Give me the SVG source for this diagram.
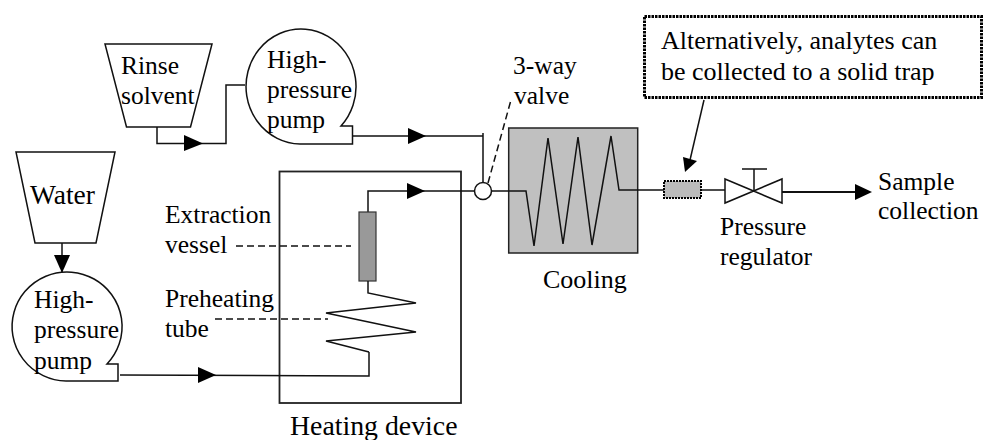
<svg xmlns="http://www.w3.org/2000/svg" width="983" height="440" viewBox="0 0 983 440">
<style>
text{font-family:"Liberation Serif","Times New Roman",serif;font-size:25.500px;fill:#000}
.s{fill:none;stroke:#111;stroke-width:1.5}
.w{fill:#fff;stroke:#111;stroke-width:1.5}
.d{fill:none;stroke:#111;stroke-width:1.5;stroke-dasharray:7 4}
.h{fill:#000;stroke:none}
</style>
<rect width="983" height="440" fill="#fff"/>
<g id="heating-device">
<rect x="279.500" y="171.500" width="181.500" height="231.500" fill="none" stroke="#222" stroke-width="1.800"/>
<text x="290" y="435" style="font-size:27.800px">Heating device</text>
</g>
<g id="cooling">
<rect x="508.700" y="128" width="129" height="125" fill="#c0c0c0" stroke="#222" stroke-width="1.500"/>
<path class="s" d="M492 191H526L534 246L548 138L563 244L578 137L592 245L611 136L619 190H664"/>
<text x="543" y="288" style="font-size:26px">Cooling</text>
</g>
<g id="connectors">
<path class="s" d="M157 127V143.500H226V85H245"/>
<path class="h" d="M184 135V151L203 143.500Z"/>
<path class="s" d="M352.500 136H483M483 133V183"/>
<path class="h" d="M408 128V144L426 136Z"/>
<path class="s" d="M62 243V273"/>
<path class="h" d="M54 255H70L62 273Z"/>
<path class="s" d="M120 375L369 376V352"/>
<path class="h" d="M198 367V383L216 375Z"/>
<path class="s" d="M368 212V191H474"/>
<path class="h" d="M407 183V199L425 191Z"/>
<path class="d" d="M236 246H351"/>
<path class="d" d="M215 319H328"/>
<path class="d" d="M488 183L511 100"/>
<path class="s" d="M701 190H725"/>
<path class="s" d="M782 192H855" style="stroke-width:2"/>
<path class="h" d="M855 184V200L872 192Z"/>
<path class="s" d="M704 100L690 160"/>
<path class="h" d="M683 157L697 161L685 172Z"/>
</g>
<g id="rinse-solvent">
<path class="w" d="M105 44H212L190.500 127H126.500Z"/>
<text x="121" y="74">Rinse</text>
<text x="121" y="104">solvent</text>
</g>
<g id="pump-top">
<path class="w" d="M341 126L352.500 126V144H300A55 57.500 0 1 1 341 126Z"/>
<text x="267" y="68">High-</text>
<text x="267" y="98">pressure</text>
<text x="267" y="128">pump</text>
</g>
<g id="water">
<path class="w" d="M16 152H115L96 243H35Z"/>
<text x="30" y="204" style="font-size:27.500px">Water</text>
</g>
<g id="pump-bottom">
<path class="w" d="M107 364L118 364V381H66A55 54.500 0 1 1 107 364Z"/>
<text x="34" y="308">High-</text>
<text x="34" y="338">pressure</text>
<text x="34" y="369">pump</text>
</g>
<g id="extraction-vessel">
<rect x="359" y="212" width="17" height="69" fill="#999" stroke="#333" stroke-width="1.200"/>
<text x="165" y="223">Extraction</text>
<text x="165" y="253">vessel</text>
</g>
<g id="preheating-tube">
<path class="s" d="M369 352L326 341L416 332L326 313L416 303L368 293V281"/>
<text x="165" y="307">Preheating</text>
<text x="165" y="337">tube</text>
</g>
<g id="three-way-valve">
<circle class="w" cx="483" cy="191" r="8.500"/>
<text x="513" y="74">3-way</text>
<text x="514" y="104">valve</text>
</g>
<g id="solid-trap">
<rect x="664" y="181" width="37" height="17" fill="#bbb" stroke="#000" stroke-width="2" stroke-dasharray="2 1"/>
</g>
<g id="pressure-regulator">
<path class="w" d="M725 179L782 203V179L725 203Z"/>
<path class="s" d="M754 190V169M742 169H767"/>
<text x="720" y="235">Pressure</text>
<text x="720" y="265">regulator</text>
</g>
<g id="sample-collection">
<text x="878" y="190">Sample</text>
<text x="878" y="219">collection</text>
</g>
<g id="callout">
<rect x="644.500" y="16.500" width="337" height="81" fill="#fff" stroke="#000" stroke-width="3" stroke-dasharray="2.500 1"/>
<text x="661" y="49" style="font-size:26px">Alternatively, analytes can</text>
<text x="661" y="80" style="font-size:26px">be collected to a solid trap</text>
</g>
</svg>
